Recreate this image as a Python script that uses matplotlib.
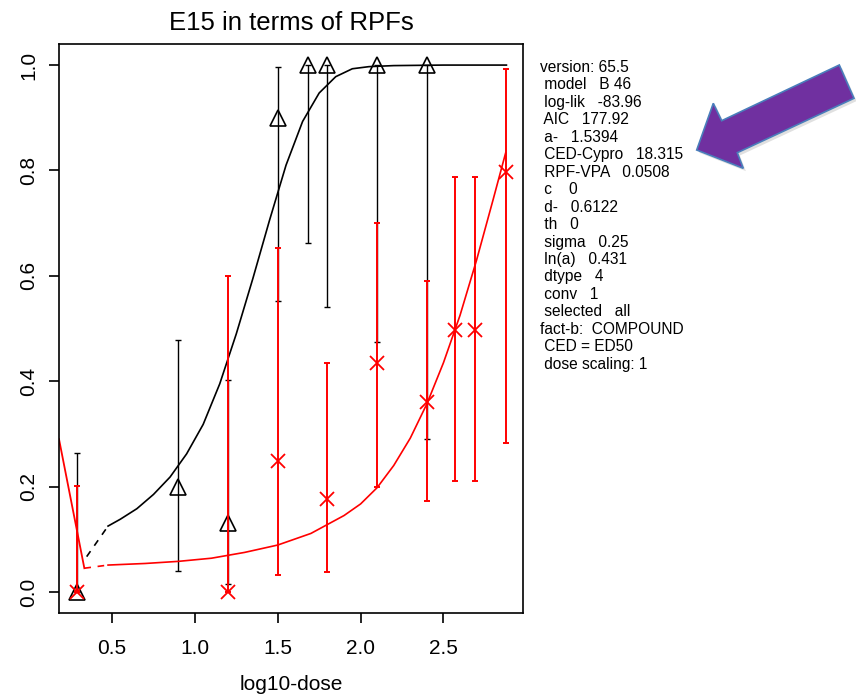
import matplotlib.pyplot as plt
from matplotlib.patches import Polygon
import numpy as np

plt.rcParams['font.family'] = ['Liberation Sans', 'DejaVu Sans']

# observed points, black triangles
bx = [0.29, 0.90, 1.20, 1.50, 1.68, 1.80, 2.10, 2.40]
by = [0.0, 0.20, 0.13, 0.90, 1.0, 1.0, 1.0, 1.0]
b_lo = [0.0, 0.040, 0.015, 0.552, 0.662, 0.541, 0.475, 0.291]
b_hi = [0.263, 0.478, 0.403, 0.996, 1.0, 1.0, 1.0, 1.0]

# observed points, red crosses
rx = [0.29, 1.20, 1.50, 1.80, 2.10, 2.40, 2.57, 2.69, 2.875]
ry = [0.0, 0.0, 0.248, 0.176, 0.435, 0.36, 0.498, 0.498, 0.797]
r_lo = [0.0, 0.0, 0.032, 0.038, 0.199, 0.173, 0.21, 0.21, 0.282]
r_hi = [0.202, 0.60, 0.653, 0.435, 0.70, 0.59, 0.787, 0.787, 0.993]

# fitted curves
bcx = [0.476, 0.55, 0.65, 0.75, 0.85, 0.95, 1.05, 1.15, 1.25, 1.35, 1.45,
       1.55, 1.65, 1.75, 1.85, 1.95, 2.05, 2.2, 2.5, 2.88]
bcy = [0.125, 0.138, 0.158, 0.185, 0.218, 0.262, 0.318, 0.395, 0.49, 0.595,
       0.705, 0.81, 0.893, 0.947, 0.978, 0.993, 0.997, 0.999, 1.0, 1.0]
rcx = [0.476, 0.7, 0.9, 1.1, 1.3, 1.5, 1.7, 1.9, 2.0, 2.1, 2.2, 2.3, 2.4,
       2.5, 2.6, 2.7, 2.8, 2.875]
rcy = [0.051, 0.054, 0.058, 0.064, 0.075, 0.089, 0.111, 0.145, 0.167, 0.198,
       0.240, 0.292, 0.357, 0.435, 0.525, 0.630, 0.745, 0.833]

# pieces near dose zero
b_dash_x = [0.347, 0.476]
b_dash_y = [0.067, 0.125]
r_dash_x = [0.333, 0.476]
r_dash_y = [0.045, 0.051]
r_steep_x = [0.18, 0.333]
r_steep_y = [0.29, 0.045]

info = ["version: 65.5", " model   B 46", " log-lik   -83.96", " AIC   177.92",
        " a-   1.5394", " CED-Cypro   18.315", " RPF-VPA   0.0508", " c    0",
        " d-   0.6122", " th   0", " sigma   0.25", " ln(a)   0.431", " dtype   4",
        " conv   1", " selected   all", "fact-b:  COMPOUND", " CED = ED50",
        " dose scaling: 1"]

W, H = 856, 698
fig = plt.figure(figsize=(W / 100, H / 100), dpi=100)
ax = fig.add_axes([59 / W, 1 - 613 / H, (523 - 59) / W, (613 - 44) / H])

# black
yerr = [np.array(by) - np.array(b_lo), np.array(b_hi) - np.array(by)]
ax.errorbar(bx, by, yerr=yerr, fmt='none', ecolor='black', elinewidth=1.0,
            capsize=2.5, capthick=1.0)
ax.plot(bx, by, linestyle='none', marker='^', markersize=12, mfc='none',
        mec='black', mew=1.2)
ax.plot(bcx, bcy, color='black', lw=1.2)
ax.plot(b_dash_x, b_dash_y, color='black', lw=1.2, dashes=(4, 4))

# red
yerr = [np.array(ry) - np.array(r_lo), np.array(r_hi) - np.array(ry)]
ax.errorbar(rx, ry, yerr=yerr, fmt='none', ecolor='red', elinewidth=1.4,
            capsize=2.5, capthick=1.4)
ax.plot(rx, ry, linestyle='none', marker='x', markersize=10, mec='red', mew=1.3)
ax.plot(rcx, rcy, color='red', lw=1.2)
ax.plot(r_dash_x, r_dash_y, color='red', lw=1.2, dashes=(4, 4))
ax.plot(r_steep_x, r_steep_y, color='red', lw=1.3)

ax.set_xlim(0.18, 2.98)
ax.set_ylim(-0.04, 1.04)
ax.set_xticks([0.5, 1.0, 1.5, 2.0, 2.5])
ax.set_yticks([0.0, 0.2, 0.4, 0.6, 0.8, 1.0])
ax.set_xticklabels(['0.5', '1.0', '1.5', '2.0', '2.5'])
ax.set_yticklabels(['0.0', '0.2', '0.4', '0.6', '0.8', '1.0'], rotation=90,
                   va='center')
ax.tick_params(direction='out', length=7, width=1.2, labelsize=15)
ax.tick_params(axis='x', pad=12)
ax.tick_params(axis='y', pad=8)
for s in ax.spines.values():
    s.set_linewidth(1.2)

ax.set_title("E15 in terms of RPFs", fontsize=18.5, pad=10)
ax.set_xlabel("log10-dose", fontsize=15, labelpad=12)

# model info next to the plot
for i, line in enumerate(info):
    fig.text(540 / W, 1 - (67.3 + i * 17.47) / H, line, fontsize=11.2,
             va='center', ha='left')

# purple arrow
arrow = [(696.7, 150), (713.3, 103.3), (721.7, 120.7), (839.3, 65),
         (854, 98.3), (737.3, 152.7), (743.3, 168.3)]
shadow = Polygon([(x / W + 0.003, 1 - y / H - 0.004) for x, y in arrow],
                 closed=True, transform=fig.transFigure, fc='#999999',
                 ec='none', alpha=0.3)
fig.patches.append(shadow)
poly = Polygon([(x / W, 1 - y / H) for x, y in arrow], closed=True,
               transform=fig.transFigure, fc='#7030A0', ec='#4A7EBB', lw=1.2)
fig.patches.append(poly)

fig.savefig('out.png', dpi=100)
